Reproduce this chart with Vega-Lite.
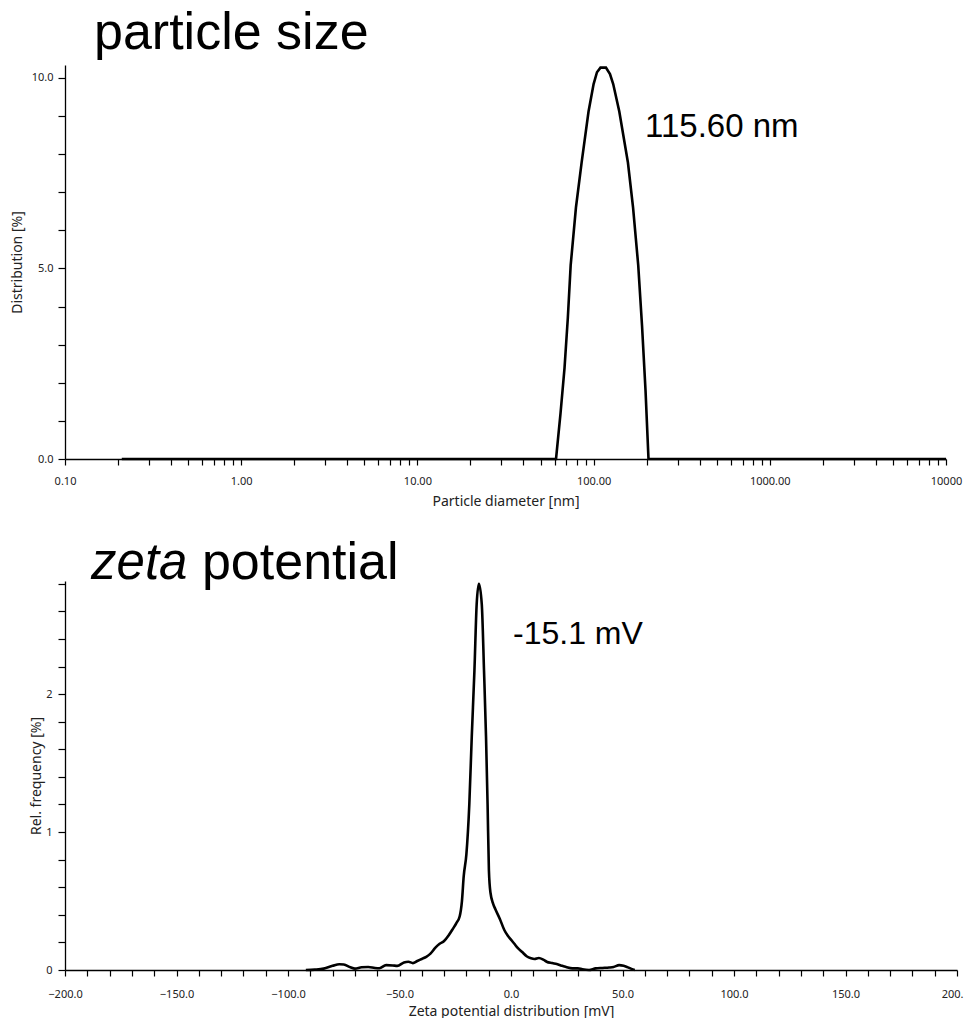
{
  "$schema": "https://vega.github.io/schema/vega-lite/v6.json",
  "background": "white",
  "padding": {"left": 10, "top": 7, "right": 5, "bottom": 0},
  "spacing": 28,
  "config": {
    "view": {"stroke": null},
    "axis": {
      "domainColor": "#000", "tickColor": "#000", "domainWidth": 1.3, "tickWidth": 1.2,
      "labelColor": "#222", "titleColor": "#222",
      "labelFont": "Noto Sans", "titleFont": "Noto Sans",
      "labelFontSize": 11, "titleFontSize": 14, "titleFontWeight": "normal",
      "grid": false, "labelOverlap": false, "labelFlush": false, "tickCount": 1000
    }
  },
  "vconcat": [
    {
      "width": 881,
      "height": 394,
      "title": {"text": "particle size", "anchor": "start", "frame": "group", "font": "Liberation Sans", "fontSize": 52, "fontWeight": "normal", "color": "#000", "dx": 29, "offset": 2},
      "layer": [
        {
          "data": {"values": [
            {"d": 0.21, "v": 0},
            {"d": 61.2, "v": 0},
            {"d": 64.9, "v": 1.2},
            {"d": 68.4, "v": 2.39},
            {"d": 71.4, "v": 3.7},
            {"d": 74.1, "v": 5.08},
            {"d": 79.4, "v": 6.6},
            {"d": 85.5, "v": 7.78},
            {"d": 93.6, "v": 9.12},
            {"d": 100, "v": 9.84},
            {"d": 104.5, "v": 10.15},
            {"d": 109.4, "v": 10.27},
            {"d": 117.5, "v": 10.27},
            {"d": 123.9, "v": 10.1},
            {"d": 129.2, "v": 9.84},
            {"d": 139.9, "v": 9.12},
            {"d": 156.6, "v": 7.78},
            {"d": 167.5, "v": 6.6},
            {"d": 179.2, "v": 5.08},
            {"d": 188.3, "v": 3.5},
            {"d": 197.1, "v": 1.8},
            {"d": 204.9, "v": 0},
            {"d": 10000, "v": 0}
          ]},
          "mark": {"type": "line", "color": "#000", "strokeWidth": 2.6},
          "encoding": {
            "x": {"field": "d", "type": "quantitative", "title": "Particle diameter [nm]",
              "scale": {"type": "log", "domain": [0.1, 10000], "nice": false},
              "axis": {
                "values": [0.1,0.2,0.3,0.4,0.5,0.6,0.7,0.8,0.9,1,2,3,4,5,6,7,8,9,10,20,30,40,50,60,70,80,90,100,200,300,400,500,600,700,800,900,1000,2000,3000,4000,5000,6000,7000,8000,9000,10000],
                "labelExpr": "datum.value == 0.1 ? '0.10' : datum.value == 1 ? '1.00' : datum.value == 10 ? '10.00' : datum.value == 100 ? '100.00' : datum.value == 1000 ? '1000.00' : datum.value == 10000 ? '10000' : ''",
                "tickSize": 6, "labelPadding": 10, "titlePadding": 8, "tickCount": 1000, "labelOverlap": false
              }
            },
            "y": {"field": "v", "type": "quantitative", "title": "Distribution [%]",
              "scale": {"domain": [0, 10.34], "nice": false},
              "axis": {
                "values": [0,1,2,3,4,5,6,7,8,9,10],
                "labelExpr": "datum.value % 5 == 0 ? format(datum.value, '.1f') : ''",
                "tickSize": 7, "labelPadding": 5, "titlePadding": 7, "tickCount": 1000, "labelOverlap": false
              }
            }
          }
        },
        {
          "data": {"values": [{"label": "115.60 nm", "d": 196, "v": 8.7}]},
          "mark": {"type": "text", "align": "left", "baseline": "middle", "font": "Liberation Sans", "fontSize": 33, "color": "#000"},
          "encoding": {
            "x": {"field": "d", "type": "quantitative", "scale": {"type": "log", "domain": [0.1, 10000], "nice": false}},
            "y": {"field": "v", "type": "quantitative", "scale": {"domain": [0, 10.34], "nice": false}},
            "text": {"field": "label"}
          }
        }
      ]
    },
    {
      "width": 892,
      "height": 389,
      "layer": [
        {
          "data": {"values": [
            {"mV": -92, "f": 0},
            {"mV": -88, "f": 0.003},
            {"mV": -84, "f": 0.01},
            {"mV": -80, "f": 0.03},
            {"mV": -77, "f": 0.042},
            {"mV": -75, "f": 0.04},
            {"mV": -72, "f": 0.02},
            {"mV": -70, "f": 0.01},
            {"mV": -67, "f": 0.02},
            {"mV": -64, "f": 0.022},
            {"mV": -61, "f": 0.015},
            {"mV": -59, "f": 0.013},
            {"mV": -56, "f": 0.035},
            {"mV": -53, "f": 0.033},
            {"mV": -51, "f": 0.03},
            {"mV": -48, "f": 0.055},
            {"mV": -46, "f": 0.06},
            {"mV": -44, "f": 0.05},
            {"mV": -42, "f": 0.065},
            {"mV": -40, "f": 0.08},
            {"mV": -38, "f": 0.095},
            {"mV": -36, "f": 0.12},
            {"mV": -34, "f": 0.16},
            {"mV": -32, "f": 0.19},
            {"mV": -30, "f": 0.21},
            {"mV": -28, "f": 0.25},
            {"mV": -26, "f": 0.3},
            {"mV": -24.5, "f": 0.34},
            {"mV": -23, "f": 0.39},
            {"mV": -22, "f": 0.5},
            {"mV": -21.2, "f": 0.68},
            {"mV": -20, "f": 0.84},
            {"mV": -18.7, "f": 1.2},
            {"mV": -17.6, "f": 1.69},
            {"mV": -16.4, "f": 2.17},
            {"mV": -15.4, "f": 2.65},
            {"mV": -14.4, "f": 2.8},
            {"mV": -13.1, "f": 2.65},
            {"mV": -12.1, "f": 2.17},
            {"mV": -11.2, "f": 1.69},
            {"mV": -10.5, "f": 1.2},
            {"mV": -9.9, "f": 0.72},
            {"mV": -9.2, "f": 0.56},
            {"mV": -8, "f": 0.48},
            {"mV": -7, "f": 0.44},
            {"mV": -5, "f": 0.37},
            {"mV": -3, "f": 0.29},
            {"mV": -1.5, "f": 0.25},
            {"mV": 0, "f": 0.22},
            {"mV": 1.5, "f": 0.19},
            {"mV": 3, "f": 0.16},
            {"mV": 5, "f": 0.13},
            {"mV": 7, "f": 0.1},
            {"mV": 9, "f": 0.085},
            {"mV": 10.5, "f": 0.08},
            {"mV": 12.5, "f": 0.087},
            {"mV": 14.5, "f": 0.075},
            {"mV": 16, "f": 0.06},
            {"mV": 18.5, "f": 0.05},
            {"mV": 20.5, "f": 0.043},
            {"mV": 23, "f": 0.03},
            {"mV": 25, "f": 0.02},
            {"mV": 27.5, "f": 0.012},
            {"mV": 30, "f": 0.012},
            {"mV": 32, "f": 0.005},
            {"mV": 35, "f": 0},
            {"mV": 38, "f": 0.012},
            {"mV": 41, "f": 0.015},
            {"mV": 44, "f": 0.018},
            {"mV": 46, "f": 0.022},
            {"mV": 48.5, "f": 0.035},
            {"mV": 50.5, "f": 0.03},
            {"mV": 52, "f": 0.022},
            {"mV": 54, "f": 0.008},
            {"mV": 55.5, "f": 0}
          ]},
          "mark": {"type": "line", "color": "#000", "strokeWidth": 2.6, "interpolate": "monotone"},
          "encoding": {
            "x": {"field": "mV", "type": "quantitative", "title": "Zeta potential distribution [mV]",
              "scale": {"domain": [-200, 200], "nice": false},
              "axis": {
                "values": [-200,-190,-180,-170,-160,-150,-140,-130,-120,-110,-100,-90,-80,-70,-60,-50,-40,-30,-20,-10,0,10,20,30,40,50,60,70,80,90,100,110,120,130,140,150,160,170,180,190,200],
                "labelExpr": "datum.value % 50 == 0 ? (datum.value == 200 ? '200.' : format(datum.value, '.1f')) : ''",
                "labelAlign": {"condition": {"test": "datum.value == 200", "value": "right"}, "value": "center"},
                "labelOffset": {"condition": {"test": "datum.value == 200", "value": 6}, "value": 0},
                "tickSize": 6, "labelPadding": 12, "titlePadding": 5, "tickCount": 1000, "labelOverlap": false
              }
            },
            "y": {"field": "f", "type": "quantitative", "title": "Rel. frequency [%]",
              "scale": {"domain": [0, 2.82], "nice": false},
              "axis": {
                "values": [0,0.2,0.4,0.6,0.8,1,1.2,1.4,1.6,1.8,2,2.2,2.4,2.6,2.8],
                "labelExpr": "datum.value == 0 ? '0' : datum.value == 1 ? '1' : datum.value == 2 ? '2' : ''",
                "tickSize": 7, "labelPadding": 6, "titlePadding": 2, "tickCount": 1000, "labelOverlap": false
              }
            }
          }
        },
        {
          "data": {"values": [{"label": "zeta", "mV": -188.3, "f": 2.835}]},
          "mark": {"type": "text", "align": "left", "baseline": "alphabetic", "font": "Liberation Sans", "fontSize": 51, "fontStyle": "italic", "color": "#000"},
          "encoding": {
            "x": {"field": "mV", "type": "quantitative", "scale": {"domain": [-200, 200], "nice": false}},
            "y": {"field": "f", "type": "quantitative", "scale": {"domain": [0, 2.82], "nice": false}},
            "text": {"field": "label"}
          }
        },
        {
          "data": {"values": [{"label": "potential", "mV": -138.6, "f": 2.835}]},
          "mark": {"type": "text", "align": "left", "baseline": "alphabetic", "font": "Liberation Sans", "fontSize": 52, "color": "#000"},
          "encoding": {
            "x": {"field": "mV", "type": "quantitative", "scale": {"domain": [-200, 200], "nice": false}},
            "y": {"field": "f", "type": "quantitative", "scale": {"domain": [0, 2.82], "nice": false}},
            "text": {"field": "label"}
          }
        },
        {
          "data": {"values": [{"label": "-15.1 mV", "mV": 0.9, "f": 2.435}]},
          "mark": {"type": "text", "align": "left", "baseline": "middle", "font": "Liberation Sans", "fontSize": 32, "color": "#000"},
          "encoding": {
            "x": {"field": "mV", "type": "quantitative", "scale": {"domain": [-200, 200], "nice": false}},
            "y": {"field": "f", "type": "quantitative", "scale": {"domain": [0, 2.82], "nice": false}},
            "text": {"field": "label"}
          }
        }
      ]
    }
  ]
}
